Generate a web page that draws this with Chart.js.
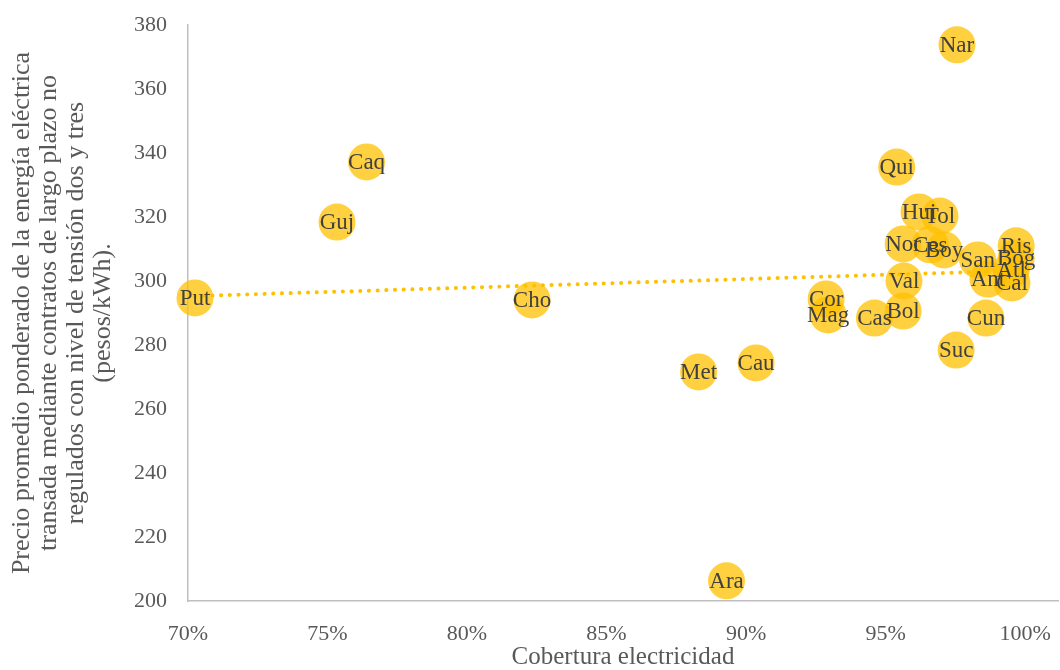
<!DOCTYPE html>
<html>
<head>
<meta charset="utf-8">
<script src="https://cdn.jsdelivr.net/npm/chart.js@4/dist/chart.umd.min.js"></script>
<style>
  html, body { margin: 0; padding: 0; background: #fff; overflow: hidden; }
  #wrap { width: 1060px; height: 670px; position: relative; }
  #wrap canvas { display: block; }
</style>
</head>
<body>
<div id="wrap"><canvas id="chartCobertura"></canvas></div>
<script>
// ================================================
// Data
// ================================================

const departamentos = ['Put', 'Guj', 'Caq', 'Cho', 'Met', 'Ara', 'Cau', 'Cor', 'Mag', 'Cas',
  'Qui', 'Hui', 'Tol', 'Nor', 'Ces', 'Boy', 'Val', 'Bol', 'Nar', 'San',
  'Ris', 'Bog', 'Atl', 'Ant', 'Cal', 'Cun', 'Suc'];

// Cobertura electricidad (fraction)
const cobertura = [0.7025, 0.7534, 0.7640, 0.8233, 0.8830, 0.8930, 0.9036, 0.9287, 0.9294, 0.9460,
  0.9540, 0.9620, 0.9695, 0.9563, 0.9660, 0.9710, 0.9566, 0.9563, 0.9756, 0.9830,
  0.9968, 0.9968, 0.9950, 0.9867, 0.9953, 0.9860, 0.9753];

// Precio promedio (pesos/kWh)
const precio = [294.7, 318.4, 337.2, 294.1, 271.6, 206.3, 274.4, 294.4, 289.4, 288.4,
  335.6, 321.6, 320.3, 311.6, 311.3, 309.7, 300.0, 290.6, 373.8, 306.6,
  311.0, 307.2, 303.4, 300.6, 299.4, 288.4, 278.4];

const xTicks = [0.70, 0.75, 0.80, 0.85, 0.90, 0.95, 1.00];
const yTicks = [200, 220, 240, 260, 280, 300, 320, 340, 360, 380];

// ================================================
// Linear trendline (least squares, like Excel)
// ================================================

function trendLine(xs, ys) {
  const n = xs.length;
  let sx = 0, sy = 0, sxx = 0, sxy = 0;
  for (let i = 0; i < n; i++) {
    sx += xs[i]; sy += ys[i];
    sxx += xs[i] * xs[i]; sxy += xs[i] * ys[i];
  }
  const m = (n * sxy - sx * sy) / (n * sxx - sx * sx);
  const b = (sy - m * sx) / n;
  const x0 = Math.min(...xs), x1 = Math.max(...xs);
  return [{ x: x0, y: m * x0 + b }, { x: x1, y: m * x1 + b }];
}

const puntos = cobertura.map((c, i) => ({ x: c, y: precio[i] }));

// ================================================
// Point labels plugin
// ================================================

const pointLabels = {
  id: 'pointLabels',
  afterDatasetsDraw(chart) {
    const meta = chart.getDatasetMeta(0);
    const ctx = chart.ctx;
    ctx.save();
    ctx.font = '23px "Liberation Serif", serif';
    ctx.fillStyle = '#404040';
    ctx.textAlign = 'center';
    ctx.textBaseline = 'middle';
    meta.data.forEach((pt, i) => {
      ctx.fillText(departamentos[i], pt.x, pt.y + 1);
    });
    ctx.restore();
  }
};

const serif = '"Liberation Serif", "Times New Roman", serif';

// strip the automatic label padding so the plot area fills the canvas
function noPadding(scale) {
  scale.paddingLeft = 0;
  scale.paddingRight = 0;
  scale.paddingTop = 0;
  scale.paddingBottom = 0;
}

new Chart(document.getElementById('chartCobertura'), {
  type: 'scatter',
  data: {
    datasets: [
      {
        label: 'Departamentos',
        data: puntos,
        backgroundColor: 'rgba(255, 192, 0, 0.75)',
        borderWidth: 0,
        pointRadius: 18.5,
        pointHoverRadius: 18.5,
        clip: false,
        order: 0
      },
      {
        label: 'Tendencia',
        data: trendLine(cobertura, precio),
        showLine: true,
        borderColor: '#FFC000',
        borderWidth: 4,
        borderDash: [0.1, 8.6],
        borderCapStyle: 'round',
        pointRadius: 0,
        order: 1
      }
    ]
  },
  options: {
    responsive: true,
    maintainAspectRatio: false,
    animation: false,
    layout: {
      autoPadding: false,
      padding: { top: 25, right: 2, left: 9, bottom: 0 }
    },
    plugins: {
      legend: { display: false },
      tooltip: { enabled: false }
    },
    scales: {
      x: {
        type: 'linear',
        min: 0.70,
        max: 1.0118,
        afterBuildTicks: (scale) => { scale.ticks = xTicks.map(v => ({ value: v })); },
        afterFit: (scale) => { scale.height = 69; noPadding(scale); },
        grid: { display: false },
        border: { color: '#BFBFBF', width: 1.5 },
        ticks: {
          padding: 12,
          color: '#595959',
          font: { family: serif, size: 22 },
          callback: (v) => Math.round(v * 100) + '%'
        },
        title: {
          display: true,
          text: 'Cobertura electricidad',
          color: '#595959',
          font: { family: serif, size: 25, lineHeight: 1.0 },
          padding: { top: 0, bottom: 0 }
        }
      },
      y: {
        min: 200,
        max: 380,
        afterBuildTicks: (scale) => { scale.ticks = yTicks.map(v => ({ value: v })); },
        afterFit: (scale) => { scale.width = 179; noPadding(scale); },
        grid: { display: false },
        border: { color: '#BFBFBF', width: 1.5 },
        ticks: {
          padding: 13,
          color: '#595959',
          font: { family: serif, size: 22 }
        },
        title: {
          display: true,
          text: [
            'Precio promedio ponderado de la energía eléctrica',
            'transada mediante contratos de largo plazo no',
            'regulados con nivel de tensión dos y tres',
            '(pesos/kWh).'
          ],
          color: '#595959',
          font: { family: serif, size: 26, lineHeight: 1.04 },
          padding: { top: 0, bottom: 0 }
        }
      }
    }
  },
  plugins: [pointLabels]
});
</script>
</body>
</html>
